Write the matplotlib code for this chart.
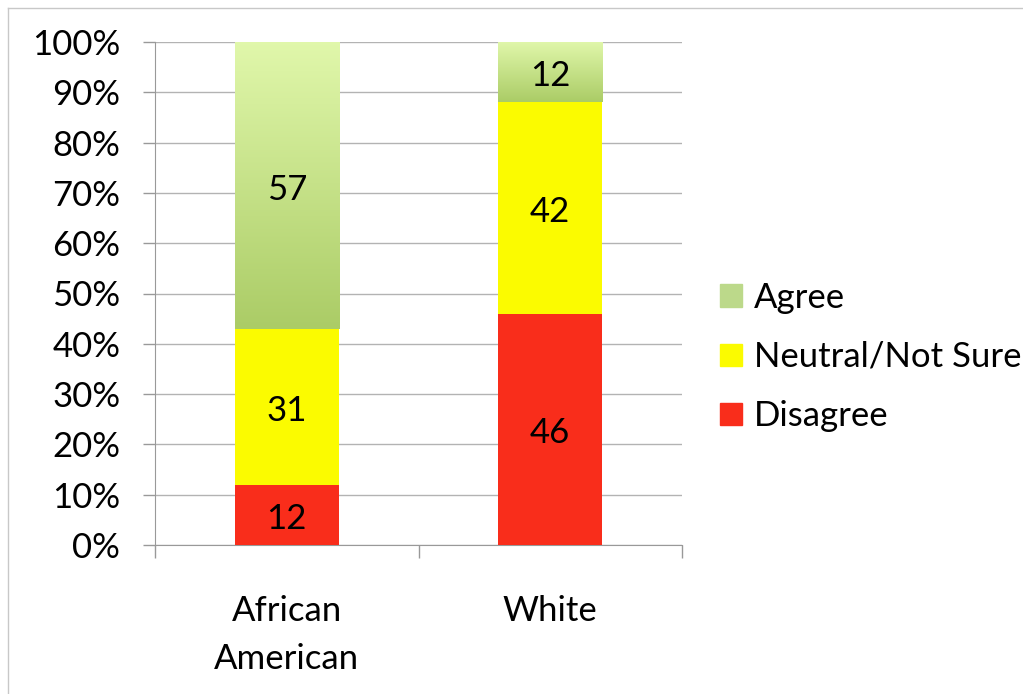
import numpy as np
import matplotlib
matplotlib.use("Agg")
import matplotlib.pyplot as plt
from matplotlib.lines import Line2D
from matplotlib.patches import Patch

plt.rcParams['font.family'] = ['Lato', 'DejaVu Sans']

groups = ["African\nAmerican", "White"]
disagree = [12, 46]
neutral = [31, 42]
agree = [57, 12]

red = "#f92d1b"
yellow = "#fbfb00"
green_top = np.array([0.88, 0.97, 0.67])
green_bot = np.array([0.67, 0.80, 0.40])
fs = 25

fig = plt.figure(figsize=(10.23, 6.94), dpi=100)
ax = fig.add_axes([155/1023, 1-545/694, (682-155)/1023, (545-42)/694])

x = np.arange(len(groups))
w = 0.395
ax.bar(x, disagree, w, color=red, zorder=3)
ax.bar(x, neutral, w, bottom=disagree, color=yellow, zorder=3)
bottoms = np.array(disagree) + np.array(neutral)
bars = ax.bar(x, agree, w, bottom=bottoms, color="none", zorder=3)

# vertical gradient inside each agree segment (light at top)
grad = np.linspace(0, 1, 256)[:, None, None]
img = green_bot + (green_top - green_bot) * grad
for b in bars:
    x0, y0 = b.get_x(), b.get_y()
    im = ax.imshow(img, extent=(x0, x0 + b.get_width(), y0, y0 + b.get_height()),
                   origin="lower", aspect="auto", zorder=3)
    im.set_clip_path(b)

def label(xv, yv, v):
    ax.annotate(str(v), (xv, yv), xytext=(0, -3), textcoords="offset points",
                ha="center", va="center", fontsize=fs, zorder=4)

for i in range(len(groups)):
    label(x[i], disagree[i]/2, disagree[i])
    label(x[i], disagree[i] + neutral[i]/2, neutral[i])
    label(x[i], bottoms[i] + agree[i]/2, agree[i])

ax.set_xlim(-0.5, 1.5)
ax.set_ylim(0, 100)
ax.set_yticks(np.arange(0, 101, 10))
ax.set_yticklabels(["%d%%" % v for v in range(0, 101, 10)], fontsize=fs)
ax.set_xticks(x)
ax.set_xticklabels(groups, fontsize=fs, linespacing=1.6)
ax.set_xticks([-0.5, 0.5, 1.5], minor=True)
ax.tick_params(axis="x", which="major", length=0, pad=36)
ax.tick_params(axis="x", which="minor", length=9, color="#999999", width=1)
ax.tick_params(axis="y", length=9, color="#999999", width=1, pad=16)
ax.grid(axis="y", color="#b3b3b3", linewidth=1, zorder=0)
for s in ["top", "right"]:
    ax.spines[s].set_visible(False)
ax.spines["left"].set_color("#999999")
ax.spines["bottom"].set_color("#999999")

handles = [Patch(color="#bcd98a"), Patch(color=yellow), Patch(color=red)]
fig.legend(handles, ["Agree", "Neutral/Not Sure", "Disagree"], loc="center left",
           bbox_to_anchor=(720/1023, 1-357/694), frameon=False, fontsize=fs,
           borderpad=0, borderaxespad=0,
           handlelength=0.62, handleheight=0.62, handletextpad=0.35, labelspacing=0.78)

# slide border
fig.add_artist(Line2D([8/1023, 1], [1-8/694, 1-8/694], color="#c8c8c8", lw=1))
fig.add_artist(Line2D([8/1023, 8/1023], [0, 1-8/694], color="#c8c8c8", lw=1))

fig.savefig("out.png", dpi=100)
